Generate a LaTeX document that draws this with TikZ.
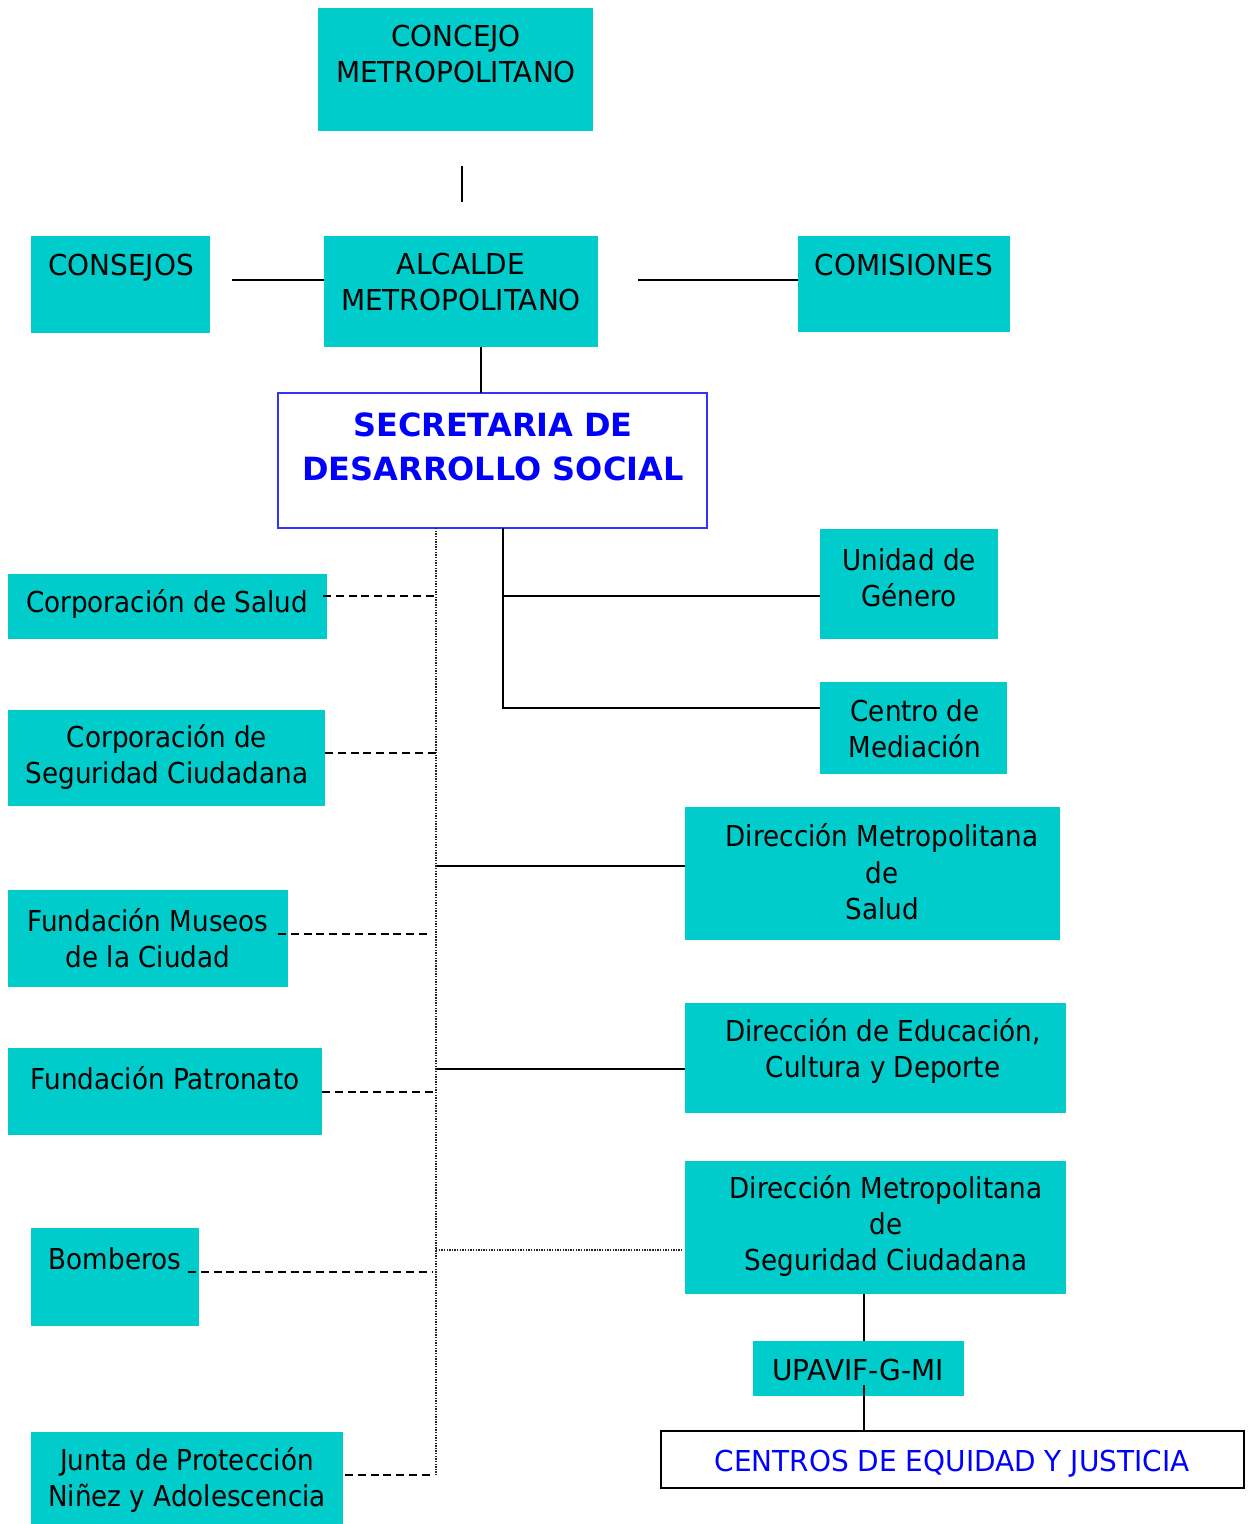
\documentclass[tikz,border=0pt]{standalone}
\usepackage{fontspec}
\setmainfont{DejaVu Sans}[FakeStretch=0.91]
\newfontfamily\titlef{DejaVu Sans}
\newfontfamily\capsf{DejaVu Sans}[FakeStretch=0.97]
\usetikzlibrary{calc}
\definecolor{boxcyan}{RGB}{0,204,204}
\definecolor{secblue}{RGB}{51,51,255}
\definecolor{txtblue}{RGB}{0,0,255}
\newcommand\mybox[6][box]{\node[#1, minimum width={(#5-#3)*0.02cm}, minimum height={(#6-#4)*0.02cm}] (#2) at ({(#3+#5)/2},{(#4+#6)/2}) {};}
\begin{document}
\begin{tikzpicture}[x=0.02cm,y=-0.02cm,
 box/.style={fill=boxcyan, draw=none, inner sep=0, outer sep=0},
 secbox/.style={fill=white, draw=secblue, line width=1.1pt, inner sep=0, outer sep=0},
 cenbox/.style={fill=white, draw=black, line width=1.6pt, inner sep=0, outer sep=0},
 txt/.style={font=\fontsize{16.4}{20.7}\selectfont, align=center, inner sep=0, text=black},
 captxt/.style={font=\capsf\fontsize{16.4}{20.7}\selectfont, align=center, inner sep=0, text=black},
 conn/.style={draw=black, line width=1pt},
 dashline/.style={draw=black, line width=1pt, dash pattern=on 4.5pt off 2.8pt},
 dotline/.style={draw=black!85, line width=1pt, dash pattern=on 0.8pt off 0.7pt}]
\useasboundingbox (0,0) rectangle (1254,1524);

% boxes
\mybox{concejo}{318}{8}{593}{131}
\mybox{consejos}{31}{236}{210}{333}
\mybox{alcalde}{324}{236}{598}{347}
\mybox{comisiones}{798}{236}{1010}{332}
\mybox[secbox]{secr}{278}{393}{707}{528}
\mybox{unidad}{820}{529}{998}{639}
\mybox{centro}{820}{682}{1007}{774}
\mybox{dsalud}{685}{807}{1060}{940}
\mybox{dedu}{685}{1003}{1066}{1113}
\mybox{dseg}{685}{1161}{1066}{1294}
\mybox{upavif}{753}{1341}{964}{1396}
\mybox[cenbox]{centros}{661}{1431}{1244}{1488}
\mybox{corpsalud}{8}{574}{327}{639}
\mybox{corpseg}{8}{710}{325}{806}
\mybox{museos}{8}{890}{288}{987}
\mybox{patronato}{8}{1048}{322}{1135}
\mybox{bomberos}{31}{1228}{199}{1326}
\mybox{junta}{31}{1432}{343}{1524}

% texts
\node[captxt] (tconcejo) at (456,54) {CONCEJO\\METROPOLITANO};
\node[captxt] (tconsejos) at (121,268) {CONSEJOS};
\node[captxt] (talcalde) at (461,282) {ALCALDE\\METROPOLITANO};
\node[captxt] (tcomisiones) at (904,265) {COMISIONES};
\node[align=center, inner sep=0, text=txtblue, font=\titlef\bfseries\fontsize{18.2}{24.9}\selectfont] (tsecr) at (493,447) {SECRETARIA DE\\DESARROLLO SOCIAL};
\node[txt] (tunidad) at (909,578) {Unidad de\\Género};
\node[txt] (tcentro) at (915,729) {Centro de\\Mediación};
\node[txt] (tdsalud) at (882,872) {Dirección Metropolitana\\de\\Salud};
\node[txt] (tdedu) at (883,1051) {Dirección de Educación,\\Cultura y Deporte};
\node[txt] (tdseg) at (886,1226) {Dirección Metropolitana\\de\\Seguridad Ciudadana};
\node[captxt] (tupavif) at (858,1370) {UPAVIF-G-MI};
\node[captxt, text=txtblue] (tcentros) at (952,1464) {CENTROS DE EQUIDAD Y JUSTICIA};
\node[txt] (tcorpsalud) at (167,604) {Corporación de Salud};
\node[txt] (tcorpseg) at (167,757) {Corporación de\\Seguridad Ciudadana};
\node[txt] (tmuseos) at (148,938) {Fundación Museos\\de la Ciudad};
\node[txt] (tpatronato) at (165,1078) {Fundación Patronato};
\node[txt] (tbomberos) at (115,1259) {Bomberos};
\node[txt] (tjunta) at (187,1480) {Junta de Protección\\Niñez y Adolescencia};

% helper coordinates
\coordinate (c1) at (462,166);
\coordinate (c2) at (462,202);
\coordinate (cs) at (232,280);
\coordinate (cm) at (638,280);
\coordinate (x481) at (481,0);
\coordinate (j1) at (503,596);
\coordinate (j2) at (503,708);
\coordinate (sp) at (436,1475);
\coordinate (b1) at (436,866);
\coordinate (b2) at (436,1069);
\coordinate (b3) at (436,1250);
\coordinate (d1) at (436,596);
\coordinate (d2) at (436,753);
\coordinate (d3) at (430,934);
\coordinate (d4) at (436,1092);
\coordinate (d5) at (433,1272);
\coordinate (d6) at (433,1475);
\coordinate (x864) at (864,0);
\coordinate (u2) at (864,1385);

% solid connectors
\draw[conn] (c1) -- (c2);
\draw[conn] (cs) -- (cs -| alcalde.west);
\draw[conn] (cm) -- (cm -| comisiones.west);
\draw[conn] (alcalde.south -| x481) -- (secr.north -| x481);
\draw[conn] (secr.south -| j1) -- (j2) -- (j2 -| centro.west);
\draw[conn] (j1) -- (j1 -| unidad.west);
\draw[conn] (b1) -- (b1 -| dsalud.west);
\draw[conn] (b2) -- (b2 -| dedu.west);
\draw[conn] (dseg.south -| x864) -- (upavif.north -| x864);
\draw[conn] (u2) -- (centros.north -| u2);

% dotted spine
\draw[dotline] (secr.south -| sp) -- (sp);
\draw[dotline] (b3) -- ($(b3 -| dseg.west)+(-3,0)$);

% dashed connectors
\draw[dashline] ($(corpsalud.east |- d1)+(-4,0)$) -- (d1);
\draw[dashline] (corpseg.east |- d2) -- (d2);
\draw[dashline] ($(museos.east |- d3)+(-10,0)$) -- (d3);
\draw[dashline] (patronato.east |- d4) -- (d4);
\draw[dashline] ($(bomberos.east |- d5)+(-11,0)$) -- (d5);
\draw[dashline] ($(junta.east |- d6)+(2,0)$) -- (d6);
\end{tikzpicture}
\end{document}
